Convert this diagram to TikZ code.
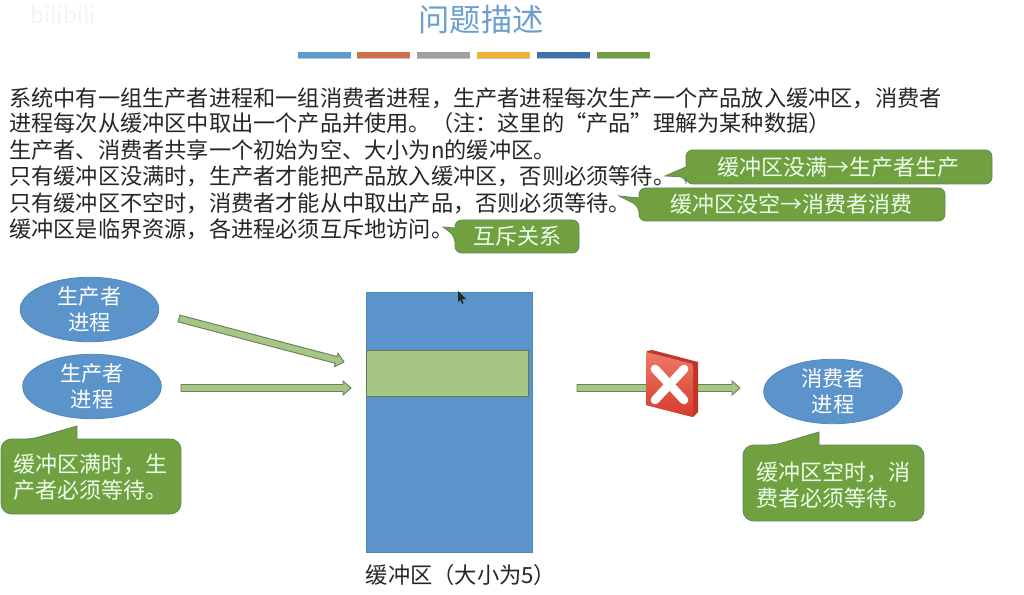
\documentclass[tikz,border=0pt]{standalone}
\usepackage{fontspec}
\setmainfont{Noto Sans CJK SC}
\usetikzlibrary{arrows.meta,calc,shapes.geometric}
\definecolor{blu}{HTML}{5B93CB}
\definecolor{blue2}{HTML}{4F86BC}
\definecolor{grn}{HTML}{70A040}
\definecolor{lgr}{HTML}{A5C684}
\definecolor{ttl}{HTML}{6A9FCF}
\definecolor{txt}{HTML}{262626}
\definecolor{xtop}{HTML}{EE7A68}
\definecolor{xbot}{HTML}{D63B2C}
\definecolor{xside}{HTML}{C2352A}
\definecolor{wmark}{HTML}{F4F4F4}
\tikzset{
  body/.style={anchor=west,inner sep=0pt,text=txt,font=\fontsize{16.65pt}{18pt}\selectfont},
  proc/.style={ellipse,draw=blue2,line width=.6pt,fill=blu,text=white,align=center,minimum width=104pt,minimum height=47pt,inner sep=0pt,font=\fontsize{16pt}{19.5pt}\selectfont},
  talk/.style={fill=grn,draw=grn!85!blue,line width=.6pt,rounded corners=5pt},
  talktext/.style={text=white!92!green,align=center,inner sep=0pt,font=\fontsize{16.5pt}{19.5pt}\selectfont},
  flow/.style={fill=lgr,draw=lgr!65!black,line width=.7pt,line join=miter},
}
\begin{document}
\begin{tikzpicture}[x=.75pt,y=-.75pt]
\useasboundingbox (0,0) rectangle (1024,595);
\fill[white] (0,0) rectangle (1024,595);
\node[inner sep=0pt,text=wmark,font=\fontsize{17pt}{18pt}\selectfont] (wm) at (63,15) {bilibili};
% title
\node[anchor=center,inner sep=0pt,text=ttl,font=\fontsize{23.5pt}{26pt}\selectfont] (title) at (481,20) {问题描述};
% colour bars
\foreach \a/\b/\c in {298/351/5B9BD5,357/410/D0704A,417/470/A0A0A0,477/530/EFB233,537/590/3E6FAE,597/650/70A040}{
  \definecolor{bc}{HTML}{\c}
  \fill[black!25] (\a,53) rectangle (\b,59.5);
  \fill[bc] (\a,52) rectangle (\b,58);
}
% body text
\node[body] (l1) at (9,98) {系统中有一组生产者进程和一组消费者进程，生产者进程每次生产一个产品放入缓冲区，消费者};
\node[body] (l2) at (9,123) {进程每次从缓冲区中取出一个产品并使用。（注：这里的“产品”理解为某种数据）};
\node[body] (l3) at (9,150) {生产者、消费者共享一个初始为空、大小为n的缓冲区。};
\node[body] (l4) at (9,176) {只有缓冲区没满时，生产者才能把产品放入缓冲区，否则必须等待。};
\node[body] (l5) at (9,203) {只有缓冲区不空时，消费者才能从中取出产品，否则必须等待。};
\node[body] (l6) at (9,229) {缓冲区是临界资源，各进程必须互斥地访问。};
% top callouts
\draw[talk] (686,150) -- (992,150) -- (992,184) -- (686,184) -- (686,177) [sharp corners] -- (665,176) -- (686,167) [rounded corners=5pt] -- cycle;
\node[talktext] (c1) at (838,167) {缓冲区没满→生产者生产};
\draw[talk] (639,188) -- (945,188) -- (945,221) -- (639,221) -- (639,206) [sharp corners] -- (619,196) -- (639,198) [rounded corners=5pt] -- cycle;
\node[talktext] (c2) at (791,204) {缓冲区没空→消费者消费};
\draw[talk] (455,220) -- (579,220) -- (579,253) -- (455,253) -- (455,236) [sharp corners] -- (443,227) -- (455,228) [rounded corners=5pt] -- cycle;
\node[talktext] (c3) at (517,236) {互斥关系};
% buffer
\node[draw=blue2,line width=.6pt,fill=blu,minimum width=124.5pt,minimum height=195pt,inner sep=0pt] (buf) at (449,422) {};
\node[draw=lgr!60!black,line width=.7pt,fill=lgr,minimum width=121pt,minimum height=34pt,inner sep=0pt] (slot) at (447.5,373.5) {};
\node[inner sep=0pt,text=txt,font=\fontsize{16.7pt}{18pt}\selectfont] (buflabel) at (461,575) {缓冲区（大小为5）};
% cursor
\fill[black!85] (458,291) -- (458,302) -- (460.5,300) -- (462,304) -- (463.5,303) -- (462,299.5) -- (466,299) -- cycle;
% processes
\node[proc] (p1) at (89.5,309.5) {生产者\\进程};
\node[proc] (p2) at (92,386.5) {生产者\\进程};
\node[proc] (q) at (833,391.5) {消费者\\进程};
% flows
\coordinate (a1s) at (179,318.5);
\coordinate (a2s) at (181,388);
\coordinate (a3s) at (577,388);
\foreach \s/\r/\l in {a1s/14.77/170.6,a2s/0/170,a3s/0/163}{
  \draw[flow] [shift={(\s)},rotate=-\r]
    (0,-3.5) -- ({\l-8},-3.5) -- ({\l-8},-7) -- (\l,0) -- ({\l-8},7) -- ({\l-8},3.5) -- (0,3.5) -- cycle;
}
% callouts lower
\draw[talk] (1,439) -- (32,439) [sharp corners] -- (77,426) -- (77,439) [rounded corners=8pt] -- (181,439) -- (181,514) -- (1,514) -- cycle;
\node[talktext,anchor=west,align=left] (c4) at (13,477.5) {缓冲区满时，生\\产者必须等待。};
\draw[talk] (743,445) -- (775,445) [sharp corners] -- (819,432) -- (819,445) [rounded corners=8pt] -- (924,445) -- (924,521) -- (743,521) -- cycle;
\node[talktext,anchor=west,align=left] (c5) at (756,485) {缓冲区空时，消\\费者必须等待。};
% red cross icon
\fill[xside] (647,351) -- (652,350) -- (698,362) -- (698,412) -- (693,417) -- (646,405) -- cycle;
\shade[top color=xtop,bottom color=xbot,rounded corners=1.5pt] (646,352) -- (693,364) -- (693,417) -- (646,405) -- cycle;
\draw[white,line width=6.5pt,line cap=round] (655,369) -- (684,400);
\draw[white,line width=6.5pt,line cap=round] (684,369) -- (655,400);
\end{tikzpicture}
\end{document}
